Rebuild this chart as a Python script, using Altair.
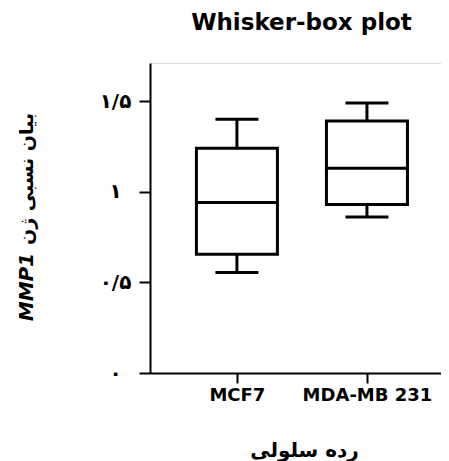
import altair as alt
import pandas as pd

# ---- data ----
cells = ["MCF7", "MDA-MB 231"]
whisker_low = [0.555, 0.86]
q1 = [0.655, 0.93]
median = [0.94, 1.13]
q3 = [1.24, 1.39]
whisker_high = [1.40, 1.49]

y_ticks = [0, 0.5, 1, 1.5]
y_tick_labels = ["۰", "۰/۵", "۱", "۱/۵"]

chart_title = "Whisker-box plot"
x_title = "رده سلولی"
y_title_fa = "بیان نسبی ژن"
y_title_gene = "MMP1"

df = pd.DataFrame({
    "cell": cells,
    "lo": whisker_low,
    "q1": q1,
    "med": median,
    "q3": q3,
    "hi": whisker_high,
})

W, H = 291, 310
FONT = "DejaVu Sans"

label_expr = " : ".join(
    f"datum.value == {v} ? '{t}'" for v, t in zip(y_ticks, y_tick_labels)
) + " : ''"

x_enc = alt.X(
    "cell:N",
    sort=cells,
    scale=alt.Scale(type="point", padding=0.619, align=0.54),
    axis=alt.Axis(
        title=x_title,
        labelAngle=0,
        labelFont=FONT,
        labelFontSize=18,
        labelFontWeight="bold",
        labelColor="black",
        labelPadding=3,
        tickSize=10,
        tickWidth=2,
        tickColor="black",
        domainColor="black",
        domainWidth=2,
        titleFont=FONT,
        titleFontSize=20,
        titleFontWeight="bold",
        titleColor="black",
        titlePadding=36,
        titleX=154,
    ),
)

y_scale = alt.Scale(domain=[0, 1.71], nice=False, zero=True)
y_axis = alt.Axis(
    title=None,
    values=y_ticks,
    labelExpr=label_expr,
    labelFont=FONT,
    labelFontSize=20,
    labelFontWeight="bold",
    labelColor="black",
    labelAlign="center",
    labelBaseline="middle",
    labelPadding=24,
    tickSize=11,
    tickWidth=2,
    tickColor="black",
    domainColor="black",
    domainWidth=2,
    grid=False,
)

base = alt.Chart(df)

whisk_lo = base.mark_rule(color="black", strokeWidth=3).encode(
    x=x_enc, y=alt.Y("lo:Q", scale=y_scale, axis=y_axis), y2="q1:Q"
)
whisk_hi = base.mark_rule(color="black", strokeWidth=3).encode(
    x=alt.X("cell:N", sort=cells), y="q3:Q", y2="hi:Q"
)
cap_lo = base.mark_tick(color="black", opacity=1, size=43, thickness=3).encode(
    x=alt.X("cell:N", sort=cells), y="lo:Q"
)
cap_hi = base.mark_tick(color="black", opacity=1, size=43, thickness=3).encode(
    x=alt.X("cell:N", sort=cells), y="hi:Q"
)
box = base.mark_bar(size=81, fill="white", stroke="black", strokeWidth=3,
                    opacity=1).encode(
    x=alt.X("cell:N", sort=cells), y="q1:Q", y2="q3:Q"
)
med = base.mark_tick(color="black", opacity=1, size=81, thickness=3).encode(
    x=alt.X("cell:N", sort=cells), y="med:Q"
)

one = alt.Data(values=[{}])
ytitle_fa = alt.Chart(one).mark_text(
    text=y_title_fa, angle=270, font=FONT, fontSize=19, fontWeight="bold",
    color="black", align="center", baseline="middle",
).encode(x=alt.value(-123), y=alt.value(116))
ytitle_gene = alt.Chart(one).mark_text(
    text=y_title_gene, angle=270, font=FONT, fontSize=20, fontWeight="bold",
    fontStyle="italic", color="black", align="center", baseline="middle",
).encode(x=alt.value(-123), y=alt.value(224))

chart = alt.layer(
    whisk_lo, whisk_hi, cap_lo, cap_hi, box, med, ytitle_fa, ytitle_gene
).properties(
    width=W,
    height=H,
    title=alt.TitleParams(
        chart_title, font=FONT, fontSize=23, fontWeight="bold", color="black",
        anchor="middle", frame="group", baseline="alphabetic", offset=10, dx=6,
    ),
    autosize=alt.AutoSizeParams(type="none"),
    padding={"left": 142, "top": 55, "right": 0, "bottom": 90},
).configure_view(stroke=None).configure(background="white")

chart.save("out.html", embed_options={"renderer": "svg", "actions": False})
